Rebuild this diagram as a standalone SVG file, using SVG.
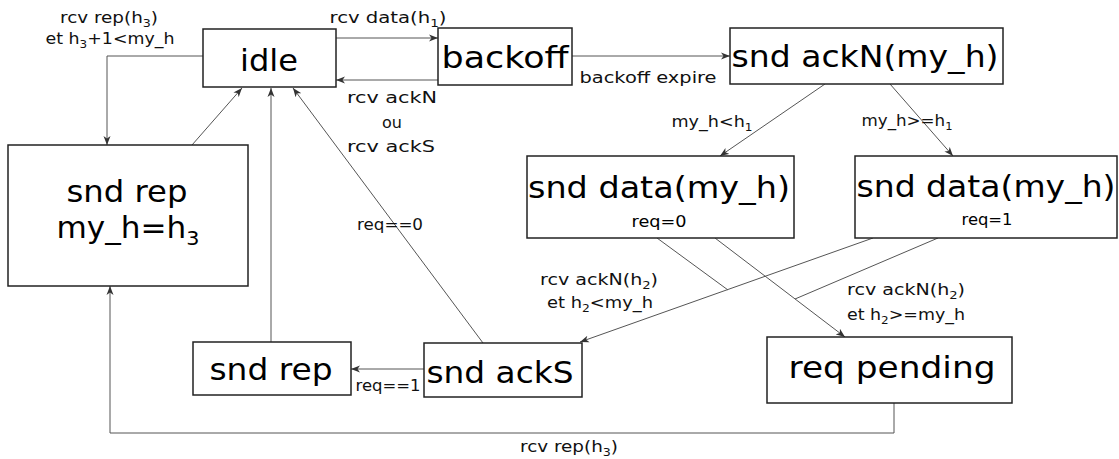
<svg xmlns="http://www.w3.org/2000/svg" width="1119" height="459" viewBox="0 0 1119 459">
<style>
.box{fill:#fff;stroke:#222;stroke-width:1.5}
.nt{font-family:"DejaVu Sans","Liberation Sans",sans-serif;font-size:30px;fill:#000;text-anchor:middle}
.st{font-family:"DejaVu Sans","Liberation Sans",sans-serif;font-size:16px;fill:#000;text-anchor:middle}
.lb{font-family:"DejaVu Sans","Liberation Sans",sans-serif;font-size:16px;fill:#111;text-anchor:middle}
.c{fill:none;stroke:#555;stroke-width:1}
.a{marker-end:url(#ar)}
.sub{font-size:11px}
</style>
<defs>
<marker id="ar" markerUnits="userSpaceOnUse" markerWidth="10" markerHeight="8" refX="9" refY="4" orient="auto">
<path d="M0,0.5 L9,4 L0,7.5 L2.5,4 z" fill="#333"/>
</marker>
</defs>
<rect width="1119" height="459" fill="#fff"/>
<g id="connectors">
<path class="c a" d="M336,38 H438"/>
<path class="c a" d="M438,80 H336"/>
<path class="c a" d="M572,56 H730"/>
<path class="c a" d="M203,56 H107 V145"/>
<path class="c a" d="M192,145 L242,88"/>
<path class="c a" d="M271,342 V88"/>
<path class="c a" d="M483,343 L293,88"/>
<path class="c a" d="M825,84 L720,156"/>
<path class="c a" d="M890,84 L953,156"/>
<path class="c a" d="M873,238 L580,342"/>
<path class="c" d="M657,238 L728,290"/>
<path class="c a" d="M715,238 L845,337"/>
<path class="c" d="M938,238 L795,299"/>
<path class="c a" d="M424,369 H351"/>
<path class="c a" d="M894,403 V433 H110 V286"/>
<text class="lb" x="109" y="23" textLength="98" lengthAdjust="spacingAndGlyphs">rcv rep(h<tspan class="sub" dy="4">3</tspan><tspan dy="-4">)</tspan></text>
<text class="lb" x="110" y="44" textLength="129" lengthAdjust="spacingAndGlyphs">et h<tspan class="sub" dy="4">3</tspan><tspan dy="-4">+1&lt;my_h</tspan></text>
<text class="lb" x="388" y="23" textLength="117" lengthAdjust="spacingAndGlyphs">rcv data(h<tspan class="sub" dy="4">1</tspan><tspan dy="-4">)</tspan></text>
<text class="lb" x="392" y="103" textLength="90" lengthAdjust="spacingAndGlyphs">rcv ackN</text>
<text class="lb" x="392" y="128">ou</text>
<text class="lb" x="391" y="152" textLength="88" lengthAdjust="spacingAndGlyphs">rcv ackS</text>
<text class="lb" x="648" y="83" textLength="137" lengthAdjust="spacingAndGlyphs">backoff expire</text>
<text class="lb" x="712" y="127" textLength="81" lengthAdjust="spacingAndGlyphs">my_h&lt;h<tspan class="sub" dy="4">1</tspan></text>
<text class="lb" x="907" y="126" textLength="91" lengthAdjust="spacingAndGlyphs">my_h&gt;=h<tspan class="sub" dy="4">1</tspan></text>
<text class="lb" x="390" y="230" textLength="66" lengthAdjust="spacingAndGlyphs">req==0</text>
<text class="lb" x="599" y="285" textLength="118" lengthAdjust="spacingAndGlyphs">rcv ackN(h<tspan class="sub" dy="4">2</tspan><tspan dy="-4">)</tspan></text>
<text class="lb" x="600" y="308" textLength="106" lengthAdjust="spacingAndGlyphs">et h<tspan class="sub" dy="4">2</tspan><tspan dy="-4">&lt;my_h</tspan></text>
<text class="lb" x="906" y="295" textLength="118" lengthAdjust="spacingAndGlyphs">rcv ackN(h<tspan class="sub" dy="4">2</tspan><tspan dy="-4">)</tspan></text>
<text class="lb" x="906" y="320" textLength="118" lengthAdjust="spacingAndGlyphs">et h<tspan class="sub" dy="4">2</tspan><tspan dy="-4">&gt;=my_h</tspan></text>
<text class="lb" x="388" y="391" textLength="65" lengthAdjust="spacingAndGlyphs">req==1</text>
<text class="lb" x="569" y="452" textLength="98" lengthAdjust="spacingAndGlyphs">rcv rep(h<tspan class="sub" dy="4">3</tspan><tspan dy="-4">)</tspan></text>
</g>
<g id="idle">
<rect class="box" x="203" y="29" width="133" height="58"/>
<text class="nt" x="269" y="71" textLength="58" lengthAdjust="spacingAndGlyphs">idle</text>
</g>
<g id="backoff">
<rect class="box" x="438" y="28" width="134" height="57"/>
<text class="nt" x="505" y="68" textLength="127" lengthAdjust="spacingAndGlyphs">backoff</text>
</g>
<g id="snd-ackN">
<rect class="box" x="730" y="28" width="273" height="56"/>
<text class="nt" x="865" y="67" textLength="267" lengthAdjust="spacingAndGlyphs">snd ackN(my_h)</text>
</g>
<g id="snd-data-0">
<rect class="box" x="527" y="156" width="267" height="82"/>
<text class="nt" x="659" y="198" textLength="262" lengthAdjust="spacingAndGlyphs">snd data(my_h)</text>
<text class="st" x="659" y="227" textLength="55" lengthAdjust="spacingAndGlyphs">req=0</text>
</g>
<g id="snd-data-1">
<rect class="box" x="855" y="156" width="262" height="82"/>
<text class="nt" x="986" y="197" textLength="259" lengthAdjust="spacingAndGlyphs">snd data(my_h)</text>
<text class="st" x="987" y="225" textLength="51" lengthAdjust="spacingAndGlyphs">req=1</text>
</g>
<g id="snd-rep-h3">
<rect class="box" x="8" y="145" width="240" height="141"/>
<text class="nt" x="127" y="202" textLength="121" lengthAdjust="spacingAndGlyphs">snd rep</text>
<text class="nt" x="128" y="238" textLength="143" lengthAdjust="spacingAndGlyphs">my_h=h<tspan font-size="20" dy="7">3</tspan></text>
</g>
<g id="snd-rep">
<rect class="box" x="193" y="342" width="158" height="53"/>
<text class="nt" x="271" y="380" textLength="123" lengthAdjust="spacingAndGlyphs">snd rep</text>
</g>
<g id="snd-ackS">
<rect class="box" x="424" y="343" width="158" height="54"/>
<text class="nt" x="500" y="383" textLength="147" lengthAdjust="spacingAndGlyphs">snd ackS</text>
</g>
<g id="req-pending">
<rect class="box" x="767" y="337" width="245" height="66"/>
<text class="nt" x="892" y="378" textLength="207" lengthAdjust="spacingAndGlyphs">req pending</text>
</g>
</svg>
